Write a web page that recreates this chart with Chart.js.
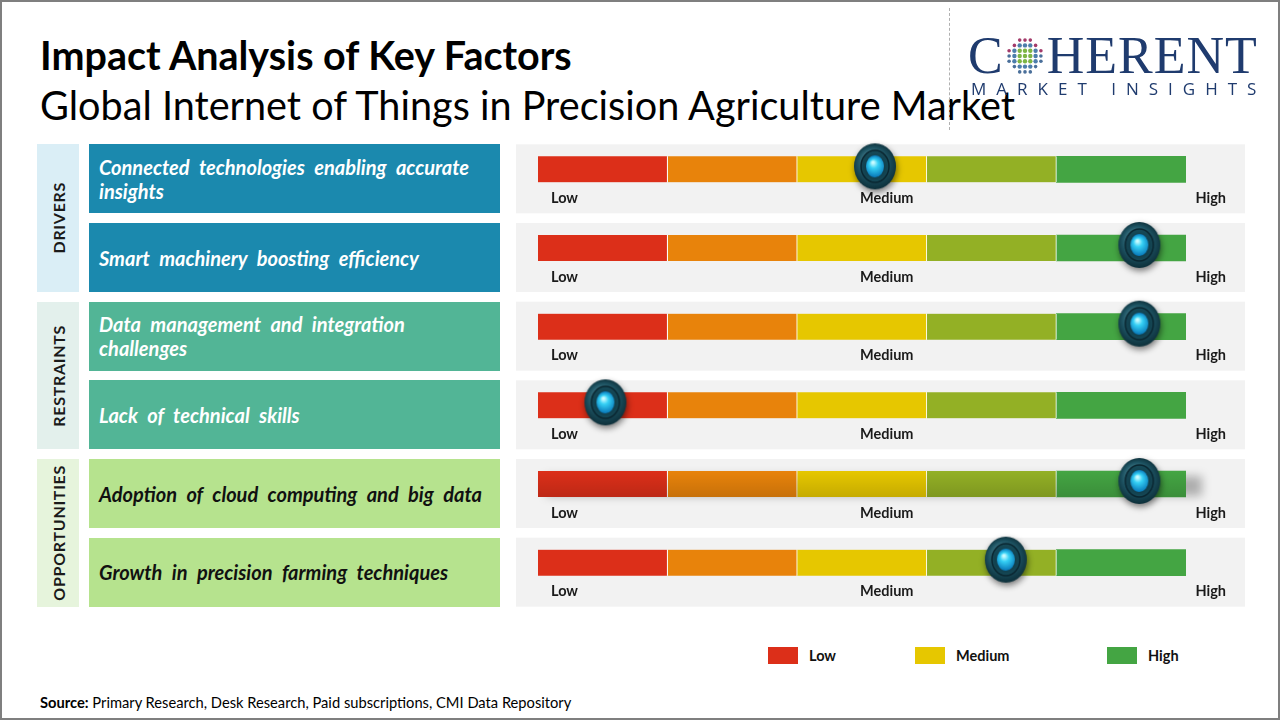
<!DOCTYPE html>
<html>
<head>
<meta charset="utf-8">
<script src="https://cdn.jsdelivr.net/npm/chart.js@4.4.1/dist/chart.umd.min.js"></script>
<style>
    html, body { margin: 0; padding: 0; }
    body { width: 1280px; height: 720px; position: relative; overflow: hidden; background: #fff; font-family: Lato, "Open Sans", sans-serif; color: #000; }
    .frame { position: absolute; left: 0; top: 0; width: 1280px; height: 720px; box-sizing: border-box; border: 2px solid #7f7f7f; pointer-events: none; }
    .title { position: absolute; left: 40px; font-weight: bold; white-space: nowrap; line-height: 1; }
    .subtitle { position: absolute; left: 40px; font-weight: normal; white-space: nowrap; line-height: 1; }
    .divider { position: absolute; left: 949px; top: 8px; height: 122px; border-left: 1px dashed #b0b0b0; }
    .logo { position: absolute; left: 968px; top: 30px; color: #1f3b6e; }
    .logo-top { display: flex; align-items: center; font-family: "Liberation Serif", "DejaVu Serif", serif; font-size: 52px; line-height: 52px; letter-spacing: 1px; }
    .logo-bottom { font-family: "Open Sans", Lato, sans-serif; font-size: 17px; letter-spacing: 10px; margin-top: -5px; margin-left: 3px; white-space: nowrap; }
    .group { position: absolute; left: 37px; width: 42px; display: flex; align-items: center; justify-content: center; }
    .group span { writing-mode: vertical-rl; transform: rotate(180deg); font-weight: bold; font-size: 16px; letter-spacing: 0.7px; color: #1a1a1a; }
    .factor { position: absolute; left: 89px; width: 411px; box-sizing: border-box; padding: 0 14px 0 10px; display: flex; align-items: center; font-weight: bold; font-style: italic; font-size: 20px; word-spacing: 5px; line-height: 24px; }
    #gauges { position: absolute; left: 516px; }
    .legend { position: absolute; top: 647px; display: flex; align-items: center; font-weight: bold; font-size: 14.5px; color: #111; }
    .legend i { display: inline-block; width: 30px; height: 17px; margin-right: 11px; }
    .source { position: absolute; left: 40px; top: 693px; font-size: 14.7px; white-space: nowrap; }
</style>
</head>
<body>
<div class="title" id="title">Impact Analysis of Key Factors</div>
<div class="subtitle" id="subtitle">Global Internet of Things in Precision Agriculture Market</div>
<div class="divider"></div>
<div class="logo">
    <div class="logo-top"><span>C</span><canvas id="globe" width="40" height="40" style="margin:0 2px 0 1px"></canvas><span>HERENT</span></div>
    <div class="logo-bottom">MARKET INSIGHTS</div>
</div>
<div id="left"></div>
<canvas id="gauges" width="729" height="490"></canvas>
<div id="legend"></div>
<div class="source"><b>Source:</b> Primary Research, Desk Research, Paid subscriptions, CMI Data Repository</div>
<div class="frame"></div>

<script>
    const factors = [
        'Connected technologies enabling accurate insights',
        'Smart machinery boosting efficiency',
        'Data management and integration challenges',
        'Lack of technical skills',
        'Adoption of cloud computing and big data',
        'Growth in precision farming techniques'
    ];
    const groups = ['DRIVERS', 'RESTRAINTS', 'OPPORTUNITIES'];
    const factorGroup = [0, 0, 1, 1, 2, 2];

    // impact position of each knob on the 0..5 gauge
    const impactScores = [2.6, 4.64, 4.64, 0.52, 4.64, 3.61];

    const segmentNames = ['Low', 'Low-Medium', 'Medium', 'Medium-High', 'High'];
    const segmentSizes = [1, 1, 1, 1, 1];
    const segmentColors = ['#dc2f19', '#e8830b', '#e6c700', '#93b025', '#44a543'];

    const gaugeLabels = ['Low', 'Medium', 'High'];
    const legendLabels = ['Low', 'Medium', 'High'];
    const legendColors = ['#dc2f19', '#e6c700', '#44a543'];

    const groupColors = ['#daeef6', '#e3f0ec', '#e6f4dc'];
    const factorColors = ['#1b89ae', '#52b596', '#b6e38e'];
    const factorTextColors = ['#ffffff', '#ffffff', '#111111'];

    // the fifth gauge has a soft drop shadow in the original slide
    const shadowedRow = 4;

    const canvasTop = 126;
    document.getElementById('gauges').style.top = canvasTop + 'px';

    function placeText(id, targetWidth, baseline) {
        const el = document.getElementById(id);
        el.style.fontSize = '40px';
        const w = el.getBoundingClientRect().width;
        const fs = 40 * targetWidth / w;
        el.style.fontSize = fs + 'px';
        el.style.top = (baseline - 0.887 * fs) + 'px';
    }
    placeText('title', 532, 70);
    placeText('subtitle', 975, 120);

    function drawGlobe() {
        const g = document.getElementById('globe').getContext('2d');
        for (let row = -3; row <= 3; row++) {
            for (let col = -3; col <= 3; col++) {
                const d = Math.hypot(col, row);
                if (d > 3.3) continue;
                g.beginPath();
                g.arc(20 + col * 5.3, 20 + row * 5.3, d > 2.6 ? 1.8 : 2.2, 0, Math.PI * 2);
                g.fillStyle = d < 1.5 ? '#7db544' : (d < 2.6 ? '#4d7eab' : (row < 0 ? '#a33a6a' : '#4a6f9a'));
                g.fill();
            }
        }
    }
    drawGlobe();

    function makeKnob() {
        const c = document.createElement('canvas');
        c.width = 64;
        c.height = 64;
        const g = c.getContext('2d');
        const cx = 32, cy = 29;

        g.save();
        g.shadowColor = 'rgba(0,0,0,0.5)';
        g.shadowBlur = 6;
        g.shadowOffsetY = 3;
        g.shadowOffsetX = 1;
        g.beginPath();
        g.ellipse(cx, cy, 21, 23, 0, 0, Math.PI * 2);
        const outer = g.createRadialGradient(cx - 5, cy - 9, 2, cx, cy, 24);
        outer.addColorStop(0, '#4f8a99');
        outer.addColorStop(0.6, '#1d5261');
        outer.addColorStop(1, '#0b2c36');
        g.fillStyle = outer;
        g.fill();
        g.restore();

        g.beginPath();
        g.ellipse(cx, cy, 14, 16, 0, 0, Math.PI * 2);
        const ring = g.createRadialGradient(cx, cy + 4, 2, cx, cy, 16);
        ring.addColorStop(0, '#0d3440');
        ring.addColorStop(1, '#174b59');
        g.fillStyle = ring;
        g.fill();
        g.lineWidth = 1.5;
        g.strokeStyle = '#0a2630';
        g.stroke();

        g.beginPath();
        g.ellipse(cx, cy, 9, 11, 0, 0, Math.PI * 2);
        const core = g.createRadialGradient(cx - 2, cy - 4, 1, cx, cy, 11);
        core.addColorStop(0, '#c8fbff');
        core.addColorStop(0.35, '#35d0f5');
        core.addColorStop(1, '#0877b8');
        g.fillStyle = core;
        g.fill();
        return c;
    }

    const gaugePlugin = {
        id: 'gaugePlugin',
        beforeDatasetsDraw(chart) {
            const {ctx, scales: {x, y}} = chart;
            ctx.save();
            factors.forEach((f, i) => {
                const cy = y.getPixelForValue(i);
                ctx.fillStyle = '#f2f2f2';
                ctx.fillRect(0, cy - 25, chart.width, 69);

                if (i === shadowedRow) {
                    ctx.save();
                    ctx.filter = 'blur(5px)';
                    ctx.fillStyle = 'rgba(0,0,0,0.28)';
                    ctx.fillRect(x.getPixelForValue(0) + 8, cy - 8, x.getPixelForValue(5) - x.getPixelForValue(0) + 8, 20);
                    ctx.restore();
                }

                ctx.fillStyle = '#1a1a1a';
                ctx.font = 'bold 14.5px Lato, "Open Sans", sans-serif';
                ctx.textBaseline = 'middle';
                ctx.textAlign = 'left';
                ctx.fillText(gaugeLabels[0], x.getPixelForValue(0) + 13, cy + 29);
                ctx.fillText(gaugeLabels[1], x.getPixelForValue(2.5) - 2, cy + 29);
                ctx.textAlign = 'right';
                ctx.fillText(gaugeLabels[2], x.getPixelForValue(5) + 40, cy + 29);
            });
            ctx.restore();
        },
        afterDatasetDraw(chart, args) {
            // darken the lower half of the shadowed gauge a little
            if (args.meta.type !== 'bar' || args.index !== 1) return;
            const {ctx, scales: {x, y}} = chart;
            const cy = y.getPixelForValue(shadowedRow);
            const grad = ctx.createLinearGradient(0, cy - 13, 0, cy + 13);
            grad.addColorStop(0, 'rgba(0,0,0,0)');
            grad.addColorStop(1, 'rgba(0,0,0,0.14)');
            ctx.save();
            ctx.fillStyle = grad;
            ctx.fillRect(x.getPixelForValue(0), cy - 13, x.getPixelForValue(5) - x.getPixelForValue(0), 26);
            ctx.restore();
        }
    };

    const segmentDatasets = segmentNames.map((name, s) => ({
        type: 'bar',
        label: name,
        data: factors.map(() => segmentSizes[s]),
        backgroundColor: segmentColors[s],
        borderColor: '#ffffff',
        borderWidth: {left: 0, right: s < segmentNames.length - 1 ? 1 : 0, top: 0, bottom: 0},
        borderSkipped: false,
        barThickness: 26,
        order: 1
    }));

    const knobDataset = {
        type: 'scatter',
        label: 'Impact',
        data: factors.map((f, i) => ({x: impactScores[i], y: f})),
        pointStyle: makeKnob(),
        pointRadius: 1,
        borderWidth: 0,
        clip: false,
        order: 0
    };

    const gaugeChart = new Chart(document.getElementById('gauges'), {
        type: 'bar',
        data: {
            labels: factors,
            datasets: [knobDataset, ...segmentDatasets]
        },
        options: {
            indexAxis: 'y',
            responsive: false,
            animation: false,
            layout: {padding: {left: 22, right: 59, top: 2, bottom: 14}},
            scales: {
                x: {type: 'linear', min: 0, max: 5, stacked: true, display: false},
                y: {type: 'category', stacked: true, display: false, offset: true}
            },
            plugins: {
                legend: {display: false},
                tooltip: {enabled: false}
            }
        },
        plugins: [gaugePlugin]
    });

    // left boxes follow the chart rows
    const left = document.getElementById('left');
    const yScale = gaugeChart.scales.y;
    const rowTop = i => canvasTop + yScale.getPixelForValue(i) - 25;

    groups.forEach((name, g) => {
        const rows = factorGroup.map((v, i) => v === g ? i : -1).filter(i => i >= 0);
        const top = rowTop(rows[0]);
        const bottom = rowTop(rows[rows.length - 1]) + 69;
        const box = document.createElement('div');
        box.className = 'group';
        box.style.top = top + 'px';
        box.style.height = (bottom - top) + 'px';
        box.style.background = groupColors[g];
        box.innerHTML = `<span>${name}</span>`;
        left.appendChild(box);
    });

    factors.forEach((text, i) => {
        const g = factorGroup[i];
        const box = document.createElement('div');
        box.className = 'factor';
        box.style.top = rowTop(i) + 'px';
        box.style.height = '69px';
        box.style.background = factorColors[g];
        box.style.color = factorTextColors[g];
        box.textContent = text;
        left.appendChild(box);
    });

    const legendX = [768, 915, 1107];
    const legend = document.getElementById('legend');
    legendLabels.forEach((label, i) => {
        const item = document.createElement('div');
        item.className = 'legend';
        item.style.left = legendX[i] + 'px';
        item.innerHTML = `<i style="background:${legendColors[i]}"></i>${label}`;
        legend.appendChild(item);
    });
</script>
</body>
</html>
